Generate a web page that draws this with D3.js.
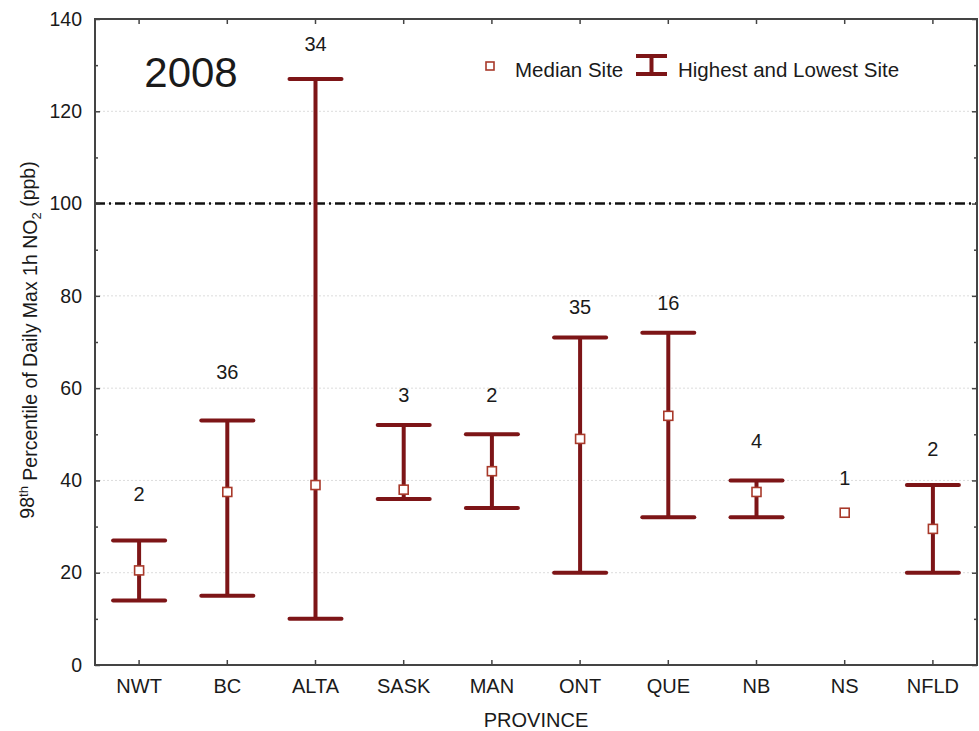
<html>
<head>
<style>
  body { margin: 0; background: #fff; }
  text { font-family: "Liberation Sans", Arial, sans-serif; fill: #1a1a1a; }
</style>
</head>
<body>
<div id="chart"></div>
<script src="https://d3js.org/d3.v7.min.js"></script>
<script>
const provinces = ['NWT', 'BC', 'ALTA', 'SASK', 'MAN', 'ONT', 'QUE', 'NB', 'NS', 'NFLD'];
const highest = [27, 53, 127, 52, 50, 71, 72, 40, null, 39];
const lowest = [14, 15, 10, 36, 34, 20, 32, 32, null, 20];
const median = [20.5, 37.5, 39, 38, 42, 49, 54, 37.5, 33, 29.5];
const siteCounts = [2, 36, 34, 3, 2, 35, 16, 4, 1, 2];
const countLabelAt = [37, 63.5, 134.5, 58.5, 58.5, 77.5, 78.5, 48.5, 40.5, 46.8];
const yTicks = [0, 20, 40, 60, 80, 100, 120, 140];
const limitValue = 100;

const W = 979, H = 731;
const margin = { top: 19, right: 2, bottom: 66, left: 95 };
const width = W - margin.left - margin.right;
const height = H - margin.top - margin.bottom;
const red = '#7d1517';

const svg = d3.select('#chart').append('svg')
    .attr('width', W).attr('height', H);
const g = svg.append('g')
    .attr('transform', `translate(${margin.left},${margin.top})`);

const x = d3.scaleBand().domain(provinces).range([0, width]);
const y = d3.scaleLinear().domain([0, 140]).range([height, 0]);
const cx = p => x(p) + x.bandwidth() / 2;

// gridlines
g.append('g').selectAll('line')
    .data(yTicks.filter(t => t > 0 && t < 140))
    .join('line')
    .attr('x1', 0).attr('x2', width)
    .attr('y1', d => y(d)).attr('y2', d => y(d))
    .attr('stroke', '#dcdcdc').attr('stroke-width', 1)
    .attr('stroke-dasharray', '2,2');

// limit line
g.append('line')
    .attr('x1', 0).attr('x2', width)
    .attr('y1', y(limitValue)).attr('y2', y(limitValue))
    .attr('stroke', '#111').attr('stroke-width', 2.5)
    .attr('stroke-dasharray', '10,4,2,4');

// axes
const minor = d3.range(10, 140, 20);
const left = g.append('g')
    .call(d3.axisLeft(y).tickValues(yTicks).tickSize(-5).tickPadding(13));
left.selectAll('text').style('font-size', '19.5px');
g.append('g').call(d3.axisLeft(y).tickValues(minor).tickSize(-3).tickFormat(''));
g.append('g').attr('transform', `translate(${width},0)`)
    .call(d3.axisRight(y).tickValues(yTicks).tickSize(-5).tickFormat(''));
g.append('g').attr('transform', `translate(${width},0)`)
    .call(d3.axisRight(y).tickValues(minor).tickSize(-3).tickFormat(''));
const bottom = g.append('g').attr('transform', `translate(0,${height})`)
    .call(d3.axisBottom(x).tickSize(-5).tickPadding(14));
bottom.selectAll('text').style('font-size', '20px');
g.append('g').call(d3.axisTop(x).tickSize(-5).tickFormat(''));
g.selectAll('.domain').remove();
g.selectAll('.tick line').attr('stroke', '#444').attr('stroke-width', 1.5);

// frame
g.append('rect')
    .attr('width', width).attr('height', height)
    .attr('fill', 'none').attr('stroke', '#444').attr('stroke-width', 2);

// whiskers
const capW = 26;
const items = provinces.map((p, i) => ({
    p, hi: highest[i], lo: lowest[i], med: median[i], n: siteCounts[i], ly: countLabelAt[i]
}));
const wg = g.append('g');
items.filter(d => d.hi !== null).forEach(d => {
    const c = cx(d.p);
    wg.append('line').attr('x1', c).attr('x2', c)
        .attr('y1', y(d.hi)).attr('y2', y(d.lo))
        .attr('stroke', red).attr('stroke-width', 4);
    [d.hi, d.lo].forEach(v => {
        wg.append('line').attr('x1', c - capW).attr('x2', c + capW)
            .attr('y1', y(v)).attr('y2', y(v))
            .attr('stroke', red).attr('stroke-width', 4)
            .attr('stroke-linecap', 'round');
    });
});

// median squares
g.append('g').selectAll('rect')
    .data(items)
    .join('rect')
    .attr('x', d => cx(d.p) - 4.5).attr('y', d => y(d.med) - 4.5)
    .attr('width', 9).attr('height', 9)
    .attr('fill', '#fff').attr('stroke', '#a8392a').attr('stroke-width', 1.6);

// site counts
g.append('g').selectAll('text')
    .data(items)
    .join('text')
    .attr('x', d => cx(d.p)).attr('y', d => y(d.ly))
    .attr('dy', '0.35em')
    .attr('text-anchor', 'middle')
    .style('font-size', '20px')
    .text(d => d.n);

// year
svg.append('text').attr('x', 191).attr('y', 87)
    .attr('text-anchor', 'middle').style('font-size', '42px').text('2008');

// legend
svg.append('rect').attr('x', 486).attr('y', 62).attr('width', 8).attr('height', 8)
    .attr('fill', '#fff').attr('stroke', '#a8392a').attr('stroke-width', 1.6);
svg.append('text').attr('x', 515).attr('y', 77).style('font-size', '20.5px').text('Median Site');
const lg = svg.append('g').attr('stroke', red).attr('stroke-width', 4);
lg.append('line').attr('x1', 636).attr('x2', 667).attr('y1', 56).attr('y2', 56);
lg.append('line').attr('x1', 636).attr('x2', 667).attr('y1', 74).attr('y2', 74);
lg.append('line').attr('x1', 651.5).attr('x2', 651.5).attr('y1', 56).attr('y2', 74);
svg.append('text').attr('x', 678).attr('y', 77).style('font-size', '20.5px')
    .text('Highest and Lowest Site');

// axis titles
svg.append('text')
    .attr('x', margin.left + width / 2).attr('y', 727)
    .attr('text-anchor', 'middle').style('font-size', '20px').text('PROVINCE');

const yt = svg.append('text')
    .attr('transform', 'translate(34,340) rotate(-90)')
    .attr('text-anchor', 'middle').style('font-size', '19.5px');
yt.append('tspan').text('98');
yt.append('tspan').attr('dy', '-0.45em').style('font-size', '13px').text('th');
yt.append('tspan').attr('dy', '0.45em').text(' Percentile of Daily Max 1h NO');
yt.append('tspan').attr('dy', '0.3em').style('font-size', '13px').text('2');
yt.append('tspan').attr('dy', '-0.3em').text(' (ppb)');
</script>
</body>
</html>
